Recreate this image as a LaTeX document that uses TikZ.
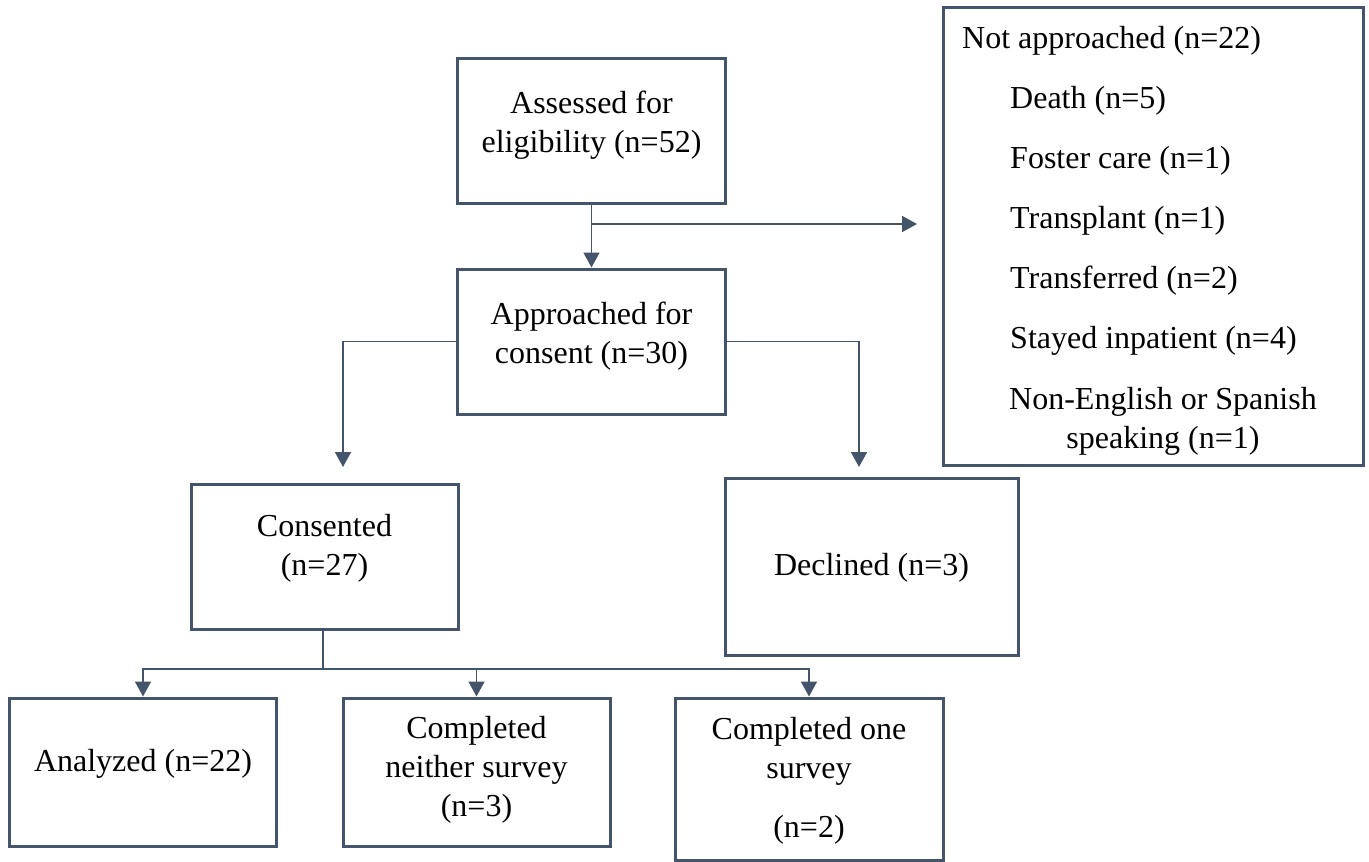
\documentclass[tikz,border=0pt]{standalone}
\usepackage{fontspec}
\setmainfont{Liberation Serif}
\usetikzlibrary{arrows.meta}
\definecolor{ln}{HTML}{44546A}
\begin{document}
\begin{tikzpicture}[x=1pt,y=-1pt,
  box/.style={draw=ln, line width=3pt, rectangle, inner sep=0pt},
  conn/.style={draw=ln, line width=1.8pt},
  arr/.style={conn, -{Triangle[width=16pt,length=15pt]}},
  txt/.style={font=\fontsize{32}{39}\selectfont, align=center, inner sep=0pt, text=black},
  ltxt/.style={txt, anchor=west, align=left}]
\useasboundingbox[fill=white] (0,0) rectangle (1369,862);
% boxes
\node[box, minimum width=268pt, minimum height=145pt] (A) at (591.5,130.5) {};
\node[box, minimum width=268pt, minimum height=145pt] (B) at (591.5,341.5) {};
\node[box, minimum width=267pt, minimum height=145pt] (C) at (324.5,556.5) {};
\node[box, minimum width=293pt, minimum height=177pt] (D) at (871.5,566.5) {};
\node[box, minimum width=267pt, minimum height=148pt] (E) at (143,772) {};
\node[box, minimum width=267pt, minimum height=148pt] (F) at (476.5,772) {};
\node[box, minimum width=268pt, minimum height=162pt] (G) at (809,779) {};
\node[box, minimum width=420pt, minimum height=458pt] (N) at (1153,236) {};
% texts
\node[txt] (At) at (591.5,125) {Assessed for\\eligibility (n=52)};
\node[txt] (Bt) at (591.5,336) {Approached for\\consent (n=30)};
\node[txt] (Ct) at (324.5,548) {Consented\\(n=27)};
\node[txt] (Dt) at (871.5,568) {Declined (n=3)};
\node[txt] (Et) at (143,764) {Analyzed (n=22)};
\node[txt] (Ft) at (476.5,770) {Completed\\neither survey\\(n=3)};
\node[txt] (Gt1) at (809,751) {Completed one\\survey};
\node[txt] (Gt2) at (809,830) {(n=2)};
\node[ltxt] (N1) at (962,41) {Not approached (n=22)};
\node[ltxt] (N2) at (1010,101) {Death (n=5)};
\node[ltxt] (N3) at (1010,161) {Foster care (n=1)};
\node[ltxt] (N4) at (1010,221) {Transplant (n=1)};
\node[ltxt] (N5) at (1010,281) {Transferred (n=2)};
\node[ltxt] (N6) at (1010,341) {Stayed inpatient (n=4)};
\node[txt] (N7) at (1163,421) {Non-English or Spanish\\speaking (n=1)};
% connectors
\coordinate (j1) at (591.5,224);
\coordinate (nA) at (917,224);
\coordinate (cL) at (343,467);
\coordinate (cR) at (859,467);
\coordinate (j2) at (323,669);
\draw[arr] (A.south) -- (B.north);
\draw[arr] (j1) -- (nA);
\draw[arr] (B.west) -| (cL);
\draw[arr] (B.east) -| (cR);
\draw[conn] (C.south -| j2) -- (j2);
\draw[arr] (j2) -| (E.north);
\draw[arr] (j2) -| (G.north);
\draw[arr] (F.north |- j2) -- (F.north);
\end{tikzpicture}
\end{document}
